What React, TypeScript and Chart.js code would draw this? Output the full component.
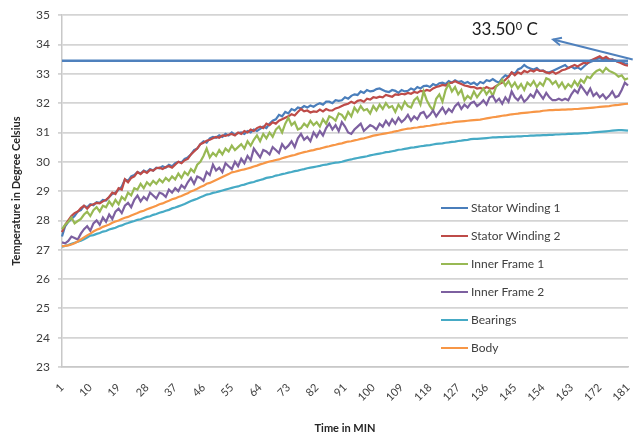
import React, { useEffect, useRef } from 'react';
import { Chart, registerables } from 'chart.js';

Chart.register(...registerables);

// Time in minutes (categories 1..181)
const minutes: string[] = Array.from({ length: 181 }, (_, i) => String(i + 1));
const tickLabels = ['1', '10', '19', '28', '37', '46', '55', '64', '73', '82', '91', '100', '109', '118', '127', '136', '145', '154', '163', '172', '181'];
const yTicks = { min: 23, max: 35, step: 1 };

const statorWinding1 = [
  27.45, 27.80, 27.95, 28.05, 28.15, 28.30, 28.35, 28.50, 28.45, 28.55,
  28.52, 28.62, 28.60, 28.70, 28.68, 28.80, 28.90, 28.95, 29.05, 29.15,
  29.40, 29.35, 29.50, 29.55, 29.65, 29.60, 29.70, 29.65, 29.75, 29.70,
  29.80, 29.78, 29.85, 29.80, 29.90, 29.85, 29.95, 30.00, 29.98, 30.10,
  30.15, 30.25, 30.40, 30.45, 30.60, 30.70, 30.65, 30.80, 30.85, 30.82,
  30.90, 30.85, 30.95, 30.90, 31.00, 30.92, 30.98, 31.00, 30.95, 31.05,
  31.00, 31.10, 31.05, 31.12, 31.20, 31.15, 31.30, 31.40, 31.45, 31.60,
  31.55, 31.70, 31.65, 31.80, 31.75, 31.85, 31.82, 31.90, 31.85, 31.92,
  31.88, 31.95, 32.00, 31.95, 32.05, 32.05, 32.00, 32.10, 32.08, 32.10,
  32.20, 32.15, 32.25, 32.30, 32.28, 32.40, 32.35, 32.45, 32.40, 32.42,
  32.48, 32.50, 32.45, 32.40, 32.38, 32.45, 32.42, 32.35, 32.45, 32.40,
  32.42, 32.50, 32.45, 32.55, 32.50, 32.58, 32.60, 32.55, 32.65, 32.60,
  32.68, 32.70, 32.65, 32.75, 32.70, 32.78, 32.72, 32.75, 32.68, 32.72,
  32.65, 32.70, 32.62, 32.72, 32.68, 32.78, 32.75, 32.82, 32.75, 32.70,
  32.85, 32.95, 32.90, 33.05, 33.00, 33.15, 33.20, 33.30, 33.22, 33.18,
  33.15, 33.20, 33.10, 33.12, 33.05, 33.05, 33.10, 33.15, 33.20, 33.25,
  33.30, 33.20, 33.25, 33.18, 33.22, 33.15, 33.25, 33.35, 33.40, 33.45,
  33.50, 33.55, 33.48, 33.52, 33.45, 33.50, 33.45, 33.40, 33.42, 33.35,
  33.35,
];

const statorWinding2 = [
  27.60, 27.85, 28.00, 28.15, 28.25, 28.30, 28.42, 28.50, 28.40, 28.52,
  28.55, 28.60, 28.58, 28.65, 28.70, 28.80, 28.95, 28.90, 29.10, 29.05,
  29.40, 29.30, 29.45, 29.50, 29.65, 29.58, 29.68, 29.62, 29.72, 29.70,
  29.78, 29.80, 29.75, 29.82, 29.85, 29.80, 29.90, 30.00, 29.95, 30.05,
  30.10, 30.25, 30.35, 30.45, 30.60, 30.65, 30.72, 30.75, 30.80, 30.85,
  30.82, 30.90, 30.88, 30.92, 30.95, 30.90, 31.00, 30.95, 31.05, 31.00,
  31.10, 31.05, 31.15, 31.20, 31.15, 31.30, 31.25, 31.35, 31.30, 31.40,
  31.45, 31.50, 31.55, 31.62, 31.58, 31.70, 31.80, 31.72, 31.75, 31.68,
  31.72, 31.70, 31.78, 31.72, 31.80, 31.75, 31.75, 31.82, 31.85, 31.90,
  31.95, 31.98, 32.05, 32.00, 32.08, 32.10, 32.05, 32.15, 32.12, 32.20,
  32.18, 32.22, 32.20, 32.28, 32.25, 32.22, 32.30, 32.28, 32.32, 32.30,
  32.35, 32.32, 32.38, 32.35, 32.42, 32.40, 32.45, 32.42, 32.50, 32.55,
  32.58, 32.62, 32.60, 32.68, 32.70, 32.75, 32.70, 32.65, 32.60, 32.58,
  32.55, 32.55, 32.50, 32.52, 32.48, 32.55, 32.50, 32.50, 32.58, 32.65,
  32.70, 32.80, 32.90, 33.05, 32.95, 33.05, 33.00, 33.10, 33.05, 33.12,
  33.08, 33.15, 33.10, 33.10, 33.05, 33.02, 33.08, 33.00, 33.05, 33.12,
  33.15, 33.20, 33.25, 33.30, 33.25, 33.32, 33.38, 33.35, 33.45, 33.50,
  33.55, 33.60, 33.52, 33.58, 33.50, 33.48, 33.45, 33.40, 33.35, 33.30,
  33.28,
];

const innerFrame1 = [
  27.70, 27.85, 27.95, 28.10, 27.90, 27.98, 28.05, 28.20, 28.30, 28.15,
  28.35, 28.45, 28.30, 28.50, 28.45, 28.65, 28.50, 28.70, 28.55, 28.80,
  28.70, 28.95, 28.85, 29.10, 29.05, 29.25, 29.10, 29.30, 29.20, 29.35,
  29.25, 29.40, 29.30, 29.45, 29.35, 29.50, 29.40, 29.60, 29.45, 29.65,
  29.55, 29.75, 29.65, 29.90, 30.00, 30.20, 30.45, 30.15, 30.30, 30.20,
  30.40, 30.25, 30.45, 30.35, 30.55, 30.40, 30.50, 30.60, 30.45, 30.70,
  30.55, 30.75, 30.90, 30.70, 30.95, 30.80, 31.00, 30.85, 31.10, 31.20,
  31.00, 31.30, 31.50, 31.25, 31.35, 31.10, 31.15, 31.30, 31.20, 31.40,
  31.25, 31.35, 31.20, 31.45, 31.30, 31.55, 31.50, 31.40, 31.65, 31.60,
  31.45, 31.70, 31.55, 31.85, 31.70, 31.90, 31.75, 31.80, 31.65, 31.90,
  31.75, 31.95, 31.80, 32.00, 31.85, 31.90, 31.70, 31.95, 31.80, 32.05,
  31.90, 31.85, 32.10, 32.20, 31.95, 32.40, 32.10, 31.90, 31.75, 32.15,
  32.30, 32.05, 32.45, 32.65, 32.40, 32.55, 32.30, 32.45, 32.10, 32.25,
  32.15, 32.40, 32.20, 32.35, 32.50, 32.30, 32.45, 32.25, 32.55, 32.65,
  32.80, 32.60, 32.75, 32.55, 32.70, 32.50, 32.65, 32.45, 32.70, 32.60,
  32.75, 32.55, 32.70, 32.60, 32.85, 32.80, 32.65, 32.75, 32.55, 32.70,
  32.50, 32.65, 32.55, 32.75, 32.60, 32.80, 32.70, 32.90, 32.85, 33.00,
  33.10, 33.15, 33.05, 33.20, 33.10, 33.05, 33.00, 32.90, 32.95, 32.80,
  32.85,
];

const innerFrame2 = [
  27.25, 27.22, 27.30, 27.45, 27.40, 27.35, 27.55, 27.70, 27.80, 27.65,
  27.90, 28.00, 27.85, 28.10, 27.95, 28.20, 28.05, 28.30, 28.40, 28.25,
  28.50, 28.60, 28.45, 28.70, 28.85, 28.65, 28.80, 28.70, 28.95, 28.85,
  28.75, 28.95, 28.90, 28.80, 29.05, 28.95, 29.10, 29.00, 29.20, 29.10,
  29.30, 29.45, 29.25, 29.50, 29.45, 29.35, 29.65, 29.55, 29.90, 29.70,
  29.80, 29.65, 29.95, 29.85, 29.75, 30.00, 29.85, 30.10, 29.95, 30.20,
  30.05, 30.45, 30.30, 30.15, 30.40, 30.35, 30.25, 30.50, 30.40, 30.30,
  30.60, 30.45, 30.55, 30.70, 30.50, 30.80, 30.95, 30.75, 30.85, 30.70,
  31.00, 30.85, 31.05, 30.90, 31.15, 31.30, 31.10, 31.25, 31.05, 31.35,
  31.20, 31.00, 30.95, 31.10, 31.20, 31.30, 31.05, 31.15, 31.25, 31.20,
  31.10, 31.30, 31.20, 31.40, 31.25, 31.45, 31.30, 31.50, 31.35, 31.45,
  31.60, 31.40, 31.55, 31.45, 31.65, 31.70, 31.50, 31.60, 31.75, 31.55,
  31.70, 31.85, 31.65, 31.80, 31.70, 31.90, 32.00, 31.80, 31.95, 31.85,
  32.00, 32.05, 31.90, 31.98, 32.10, 31.95, 32.20, 32.25, 32.05, 32.15,
  31.98, 32.20, 32.05, 32.40, 32.20, 32.10, 32.25, 32.05, 32.15, 32.30,
  32.20, 32.45, 32.30, 32.15, 32.35, 32.20, 32.10, 32.10, 32.15, 32.10,
  32.15, 32.10, 32.30, 32.45, 32.35, 32.60, 32.45, 32.30, 32.50, 32.25,
  32.35, 32.20, 32.30, 32.15, 32.25, 32.40, 32.20, 32.25, 32.45, 32.70,
  32.60,
];

const bearings = [
  27.10, 27.13, 27.16, 27.20, 27.24, 27.27, 27.31, 27.36, 27.42, 27.48,
  27.50, 27.54, 27.57, 27.62, 27.64, 27.69, 27.72, 27.75, 27.80, 27.83,
  27.88, 27.91, 27.95, 27.98, 28.02, 28.04, 28.08, 28.12, 28.14, 28.19,
  28.22, 28.26, 28.29, 28.33, 28.36, 28.41, 28.44, 28.48, 28.52, 28.56,
  28.61, 28.66, 28.70, 28.74, 28.79, 28.83, 28.88, 28.90, 28.94, 28.96,
  28.99, 29.02, 29.05, 29.08, 29.11, 29.14, 29.16, 29.20, 29.22, 29.26,
  29.29, 29.31, 29.35, 29.38, 29.41, 29.45, 29.47, 29.49, 29.53, 29.55,
  29.58, 29.60, 29.63, 29.65, 29.68, 29.70, 29.73, 29.75, 29.78, 29.80,
  29.82, 29.84, 29.86, 29.89, 29.90, 29.93, 29.95, 29.97, 29.98, 30.00,
  30.03, 30.06, 30.08, 30.11, 30.13, 30.15, 30.17, 30.19, 30.22, 30.24,
  30.26, 30.28, 30.30, 30.33, 30.34, 30.36, 30.38, 30.41, 30.42, 30.44,
  30.46, 30.48, 30.49, 30.51, 30.53, 30.54, 30.56, 30.57, 30.59, 30.61,
  30.62, 30.63, 30.65, 30.66, 30.68, 30.69, 30.71, 30.72, 30.74, 30.75,
  30.77, 30.78, 30.78, 30.79, 30.80, 30.81, 30.82, 30.83, 30.83, 30.84,
  30.84, 30.85, 30.85, 30.86, 30.86, 30.87, 30.87, 30.88, 30.88, 30.89,
  30.89, 30.90, 30.90, 30.91, 30.91, 30.92, 30.92, 30.93, 30.93, 30.94,
  30.94, 30.95, 30.95, 30.96, 30.96, 30.97, 30.98, 30.98, 30.99, 31.00,
  31.01, 31.02, 31.03, 31.04, 31.05, 31.06, 31.07, 31.08, 31.08, 31.07,
  31.06,
];

const body = [
  27.12, 27.13, 27.15, 27.18, 27.22, 27.28, 27.35, 27.42, 27.49, 27.55,
  27.62, 27.68, 27.72, 27.78, 27.82, 27.86, 27.92, 27.96, 28.00, 28.05,
  28.09, 28.12, 28.17, 28.21, 28.25, 28.30, 28.33, 28.38, 28.42, 28.46,
  28.50, 28.55, 28.58, 28.63, 28.67, 28.72, 28.75, 28.80, 28.83, 28.88,
  28.93, 28.99, 29.03, 29.08, 29.14, 29.18, 29.25, 29.28, 29.33, 29.38,
  29.43, 29.48, 29.53, 29.58, 29.64, 29.66, 29.69, 29.72, 29.74, 29.77,
  29.80, 29.84, 29.87, 29.91, 29.94, 29.98, 30.01, 30.03, 30.06, 30.08,
  30.12, 30.15, 30.18, 30.21, 30.23, 30.27, 30.30, 30.33, 30.35, 30.38,
  30.40, 30.43, 30.45, 30.48, 30.51, 30.53, 30.56, 30.58, 30.61, 30.63,
  30.66, 30.69, 30.70, 30.73, 30.75, 30.78, 30.80, 30.83, 30.86, 30.89,
  30.91, 30.93, 30.95, 30.97, 30.99, 31.01, 31.04, 31.06, 31.09, 31.11,
  31.13, 31.14, 31.16, 31.17, 31.19, 31.20, 31.22, 31.23, 31.25, 31.27,
  31.28, 31.30, 31.31, 31.33, 31.34, 31.36, 31.37, 31.38, 31.39, 31.40,
  31.41, 31.42, 31.43, 31.44, 31.46, 31.48, 31.50, 31.52, 31.53, 31.55,
  31.57, 31.58, 31.60, 31.62, 31.63, 31.64, 31.66, 31.67, 31.68, 31.69,
  31.70, 31.71, 31.72, 31.74, 31.75, 31.76, 31.76, 31.77, 31.77, 31.78,
  31.78, 31.79, 31.79, 31.80, 31.80, 31.81, 31.82, 31.83, 31.84, 31.85,
  31.86, 31.87, 31.88, 31.89, 31.90, 31.92, 31.93, 31.94, 31.96, 31.97,
  31.98,
];

// Reference (limit) line and its note
const limitValue = 33.45;
const limitLine = minutes.map(() => limitValue);
const noteMain = '33.50';
const noteSup = '0';
const noteUnit = ' C';
const noteAnchor = { index: 130.3, value: 34.32 };
const arrowFrom = { index: 181.5, value: 33.49 };
const arrowTo = { index: 156.2, value: 34.17 };

const seriesNames = ['Stator Winding 1', 'Stator Winding 2', 'Inner Frame 1', 'Inner Frame 2', 'Bearings', 'Body'];
const seriesColors = ['#4A7EBB', '#BE4B48', '#98B954', '#7D60A0', '#46AAC5', '#F79646'];
const seriesValues = [statorWinding1, statorWinding2, innerFrame1, innerFrame2, bearings, body];

const FONT = 'Lato, "Open Sans", sans-serif';

const overlayPlugin = {
  id: 'overlay',
  afterDatasetsDraw(chart: any) {
    const { ctx, scales } = chart;
    const xs = scales.x;
    const ys = scales.y;
    ctx.save();
    // legend inside plot
    ctx.font = `12px ${FONT}`;
    ctx.textBaseline = 'middle';
    ctx.textAlign = 'left';
    seriesNames.forEach((name, k) => {
      const y = 208 + k * 28;
      ctx.strokeStyle = seriesColors[k];
      ctx.lineWidth = 2;
      ctx.beginPath();
      ctx.moveTo(441, y);
      ctx.lineTo(468, y);
      ctx.stroke();
      ctx.fillStyle = '#404040';
      ctx.fillText(name, 471, y);
    });
    // arrow
    const x1 = xs.getPixelForValue(arrowFrom.index);
    const y1 = ys.getPixelForValue(arrowFrom.value);
    const x2 = xs.getPixelForValue(arrowTo.index);
    const y2 = ys.getPixelForValue(arrowTo.value);
    ctx.strokeStyle = '#4F81BD';
    ctx.lineWidth = 2;
    ctx.beginPath();
    ctx.moveTo(x1, y1);
    ctx.lineTo(x2, y2);
    ctx.stroke();
    const ang = Math.atan2(y1 - y2, x1 - x2);
    const hl = 9;
    ctx.beginPath();
    ctx.moveTo(x2 + hl * Math.cos(ang - 0.45), y2 + hl * Math.sin(ang - 0.45));
    ctx.lineTo(x2, y2);
    ctx.lineTo(x2 + hl * Math.cos(ang + 0.45), y2 + hl * Math.sin(ang + 0.45));
    ctx.stroke();
    // note text
    const tx = xs.getPixelForValue(noteAnchor.index);
    const ty = ys.getPixelForValue(noteAnchor.value);
    ctx.fillStyle = '#1a1a1a';
    ctx.textBaseline = 'alphabetic';
    ctx.font = `17px ${FONT}`;
    ctx.fillText(noteMain, tx, ty);
    const w = ctx.measureText(noteMain).width;
    ctx.font = `11px ${FONT}`;
    ctx.fillText(noteSup, tx + w + 0.5, ty - 5);
    const w2 = ctx.measureText(noteSup).width;
    ctx.font = `17px ${FONT}`;
    ctx.fillText(noteUnit, tx + w + w2 + 0.5, ty);
    ctx.restore();
  },
};

export default function App() {
  const ref = useRef<HTMLCanvasElement | null>(null);
  useEffect(() => {
    document.body.style.margin = '0';
    if (!ref.current) return;
    const datasets: any[] = seriesNames.map((name, k) => ({
      label: name,
      data: seriesValues[k],
      borderColor: seriesColors[k],
      backgroundColor: seriesColors[k],
      borderWidth: 2.2,
      pointRadius: 0,
      tension: 0,
      fill: false,
      order: 10 - k,
    }));
    datasets.push({
      label: 'limit',
      data: limitLine,
      borderColor: '#4F81BD',
      borderWidth: 2.5,
      pointRadius: 0,
      fill: false,
      order: 1,
    });
    const chart = new Chart(ref.current, {
      type: 'line',
      data: { labels: minutes, datasets },
      plugins: [overlayPlugin],
      options: {
        animation: false,
        responsive: true,
        maintainAspectRatio: false,
        layout: { padding: { top: 12, right: 7, bottom: 2, left: 0 } },
        plugins: { legend: { display: false }, tooltip: { enabled: false } },
        scales: {
          x: {
            type: 'category',
            offset: false,
            afterFit: (s: any) => { s.height = 72; s.paddingRight = 0; s.paddingLeft = 0; },
            grid: { display: false },
            border: { display: true, color: '#c8c8c8', width: 1.5 },
            ticks: {
              autoSkip: false,
              maxRotation: 45,
              minRotation: 45,
              padding: 6,
              color: '#404040',
              font: { family: FONT, size: 11 },
              callback: (_v: any, idx: number) => (tickLabels.includes(minutes[idx]) ? minutes[idx] : ''),
            },
            title: {
              display: true,
              text: 'Time in MIN',
              color: '#262626',
              font: { family: FONT, size: 11, weight: 'bold' },
              padding: { top: 0, bottom: 4 },
            },
          },
          y: {
            min: yTicks.min,
            max: yTicks.max,
            afterFit: (s: any) => { s.width = 62; },
            grid: { color: '#d4d4d4', lineWidth: 1.8, tickLength: 4 },
            border: { display: true, color: '#c8c8c8', width: 1.5 },
            ticks: {
              stepSize: yTicks.step,
              padding: 8,
              color: '#404040',
              font: { family: FONT, size: 12 },
            },
            title: {
              display: true,
              text: 'Temperature in Degree Celsius',
              color: '#262626',
              font: { family: FONT, size: 11, weight: 'bold' },
              padding: { top: 10, bottom: 0 },
            },
          },
        },
      },
    });
    return () => chart.destroy();
  }, []);
  return (
    <div style={{ width: 635, height: 441, position: 'relative' }}>
      <canvas ref={ref} />
    </div>
  );
}
